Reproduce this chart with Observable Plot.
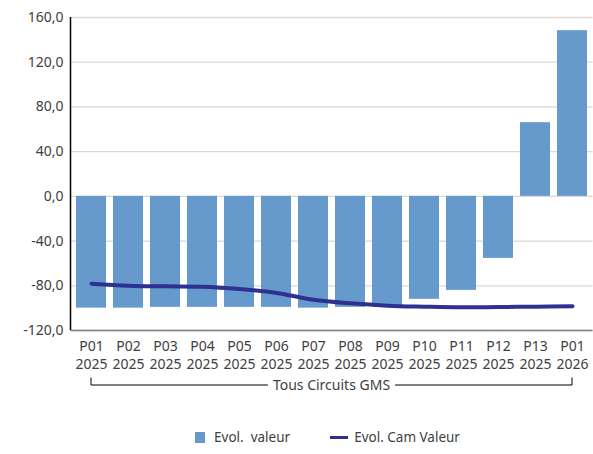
<!DOCTYPE html>
<html>
<head>
<meta charset="utf-8">
<script src="https://cdn.jsdelivr.net/npm/d3@7"></script>
<script src="https://cdn.jsdelivr.net/npm/@observablehq/plot@0.6"></script>
<style>
  html, body { margin: 0; padding: 0; background: #fff; }
  #chart { width: 593px; height: 454px; font-family: "Noto Sans", sans-serif; }
  .legend { display: flex; justify-content: center; align-items: center; height: 34px; font-size: 13.5px; color: #404040; padding-left: 62px; box-sizing: border-box; }
  .legend .item { display: flex; align-items: center; margin: 0 20px; }
  .legend .sw { width: 10px; height: 11px; background: #6699cc; margin-right: 9px; }
  .legend .ln { width: 18px; height: 3px; background: #2e3192; margin-right: 6px; }
</style>
</head>
<body>
<div id="chart"></div>
<script>
const periods = ["P01 2025","P02 2025","P03 2025","P04 2025","P05 2025","P06 2025","P07 2025","P08 2025","P09 2025","P10 2025","P11 2025","P12 2025","P13 2025","P01 2026"];
const evolValeur = [-100.0, -100.0, -99.3, -99.3, -99.3, -99.3, -100.0, -99.3, -99.2, -92.1, -84.1, -55.5, 65.9, 148.2];
const evolCamValeur = [-78.1, -80.0, -80.5, -80.8, -82.9, -86.4, -92.5, -95.7, -97.8, -98.7, -99.3, -99.0, -98.7, -98.4];
const yTicks = [-120, -80, -40, 0, 40, 80, 120, 160];
const groupLabel = "Tous Circuits GMS";
const seriesNames = ["Evol.  valeur", "Evol. Cam Valeur"];

const data = periods.map((p, i) => ({period: p, valeur: evolValeur[i], cam: evolCamValeur[i]}));
const fmt = d => d.toFixed(1).replace(".", ",");

const W = 593, H = 420, mT = 17, mB = 90, mL = 70.5, mR = 0.5;

const chart = Plot.plot({
  width: W, height: H,
  marginTop: mT, marginBottom: mB, marginLeft: mL, marginRight: mR,
  style: {fontFamily: "'Noto Sans', sans-serif", fontSize: "14px", color: "#404040", background: "#fff"},
  x: {domain: periods, paddingInner: 0.2, paddingOuter: 0.1, label: null},
  y: {domain: [-120, 160], label: null},
  marks: [
    Plot.gridY(yTicks, {stroke: "#d9d9d9", strokeOpacity: 1, strokeWidth: 1.3}),
    Plot.barY(data, {x: "period", y: "valeur", fill: "#6699cc"}),
    Plot.lineY(data, {x: "period", y: "cam", stroke: "#2e3192", strokeWidth: 4, curve: "catmull-rom"}),
    Plot.ruleY([-120], {stroke: "#7f7f7f", strokeWidth: 1.5}),
    Plot.axisY(yTicks, {tickSize: 0, tickPadding: 7.5, tickFormat: fmt, fontSize: 14, fill: "#404040"}),
    Plot.axisX({tickSize: 0, tickPadding: 8, tickFormat: d => d.replace(" ", "\n"), lineHeight: 1.28, fontSize: 14, fill: "#404040"})
  ]
});

const svg = d3.select(chart);
const xs = chart.scale("x"), ys = chart.scale("y");
const bw = xs.bandwidth;
svg.append("line").attr("x1", mL).attr("x2", mL)
  .attr("y1", ys.apply(160)).attr("y2", ys.apply(-120))
  .attr("stroke", "#000").attr("stroke-width", 1.5);

const x0 = xs.apply(periods[0]) + bw / 2;
const x1 = xs.apply(periods[periods.length - 1]) + bw / 2;
const cx = (x0 + x1) / 2;
const by = 385, bt = 377.5;
const g = svg.append("g").attr("fill", "none").attr("stroke", "#000").attr("stroke-width", 1);
const label = svg.append("text").attr("x", cx).attr("y", by + 1).attr("dy", "0.32em")
  .attr("text-anchor", "middle").attr("fill", "#404040").attr("font-size", 14).text(groupLabel);

document.getElementById("chart").append(chart);

const tw = label.node().getComputedTextLength();
g.append("path").attr("d", `M${x0},${bt}V${by}H${cx - tw / 2 - 5}`);
g.append("path").attr("d", `M${cx + tw / 2 + 5},${by}H${x1}V${bt}`);

const legend = document.createElement("div");
legend.className = "legend";
legend.innerHTML = `<div class="item"><div class="sw"></div><span style="white-space:pre">${seriesNames[0]}</span></div>` +
  `<div class="item"><div class="ln"></div><span>${seriesNames[1]}</span></div>`;
document.getElementById("chart").append(legend);
</script>
</body>
</html>
